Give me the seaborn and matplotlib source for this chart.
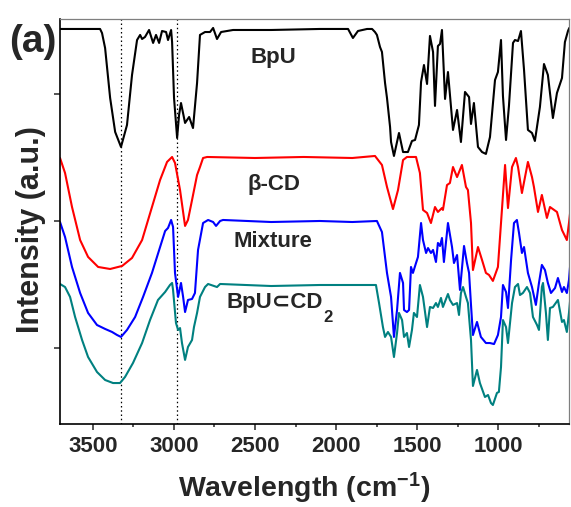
import numpy as np
import pandas as pd
import matplotlib
matplotlib.use("Agg")
import matplotlib.pyplot as plt
from matplotlib.ticker import MultipleLocator
import seaborn as sns

# FTIR spectra, (wavenumber cm^-1, offset intensity a.u.)
bpu = [(3700, 2.512), (3455, 2.512), (3443, 2.480), (3424, 2.362), (3393, 1.969), (3362, 1.701), (3326, 1.583),
       (3289, 1.756), (3258, 2.150), (3227, 2.425), (3208, 2.465), (3196, 2.433), (3178, 2.449),
       (3153, 2.504), (3128, 2.402), (3110, 2.465), (3091, 2.402), (3073, 2.496), (3048, 2.488),
       (3036, 2.425), (3017, 2.504), (3011, 2.409), (2999, 1.969), (2980, 1.654), (2968, 1.835),
       (2956, 1.929), (2931, 1.772), (2906, 1.819), (2882, 1.732), (2857, 2.087), (2839, 2.465),
       (2808, 2.488), (2777, 2.488), (2758, 2.520), (2734, 2.433), (2709, 2.488), (2635, 2.504),
       (2400, 2.504), (2100, 2.512), (1926, 2.512), (1896, 2.441), (1865, 2.496), (1809, 2.512),
       (1778, 2.512), (1760, 2.488), (1748, 2.465), (1729, 2.370), (1717, 2.331), (1698, 2.087),
       (1686, 1.969), (1667, 1.740), (1661, 1.622), (1643, 1.512), (1612, 1.693), (1587, 1.543),
       (1557, 1.543), (1532, 1.630), (1513, 1.638), (1489, 1.756), (1476, 2.094), (1458, 2.228),
       (1439, 2.079), (1421, 2.457), (1402, 2.331), (1390, 1.906), (1372, 2.378), (1359, 2.394),
       (1347, 2.504), (1328, 1.961), (1310, 2.173), (1279, 1.717), (1254, 1.874), (1230, 1.622),
       (1205, 2.016), (1180, 1.976), (1168, 1.764), (1150, 1.929), (1125, 1.583), (1100, 1.543),
       (1076, 1.528), (1051, 1.661), (1020, 2.110), (1002, 2.173), (983, 2.425), (971, 1.984),
       (952, 1.638), (934, 1.906), (909, 2.402), (897, 2.425), (878, 2.417), (860, 2.496),
       (841, 2.189), (817, 1.717), (792, 1.693), (774, 1.630), (743, 1.898), (718, 2.236),
       (694, 2.150), (663, 1.811), (638, 2.008), (607, 2.126), (589, 2.409), (570, 2.496),
       (562, 2.520)]

beta_cd = [(3702, 1.496), (3671, 1.378), (3628, 1.110), (3578, 0.850), (3529, 0.717), (3467, 0.638),
           (3393, 0.622), (3319, 0.646), (3258, 0.709), (3196, 0.850), (3135, 1.110), (3085, 1.323),
           (3042, 1.465), (3011, 1.504), (2993, 1.457), (2962, 1.244), (2931, 0.961), (2913, 1.008),
           (2888, 1.165), (2857, 1.362), (2839, 1.425), (2820, 1.496), (2795, 1.504), (2500, 1.496),
           (2200, 1.504), (1900, 1.496), (1760, 1.512), (1717, 1.441), (1686, 1.268), (1649, 1.094),
           (1618, 1.244), (1587, 1.480), (1563, 1.504), (1507, 1.504), (1483, 1.378), (1464, 1.087),
           (1439, 1.063), (1415, 0.984), (1390, 1.110), (1372, 1.071), (1347, 1.102), (1341, 1.087),
           (1316, 1.283), (1298, 1.299), (1279, 1.425), (1254, 1.346), (1224, 1.441), (1199, 1.268),
           (1187, 1.244), (1168, 0.984), (1156, 0.614), (1125, 0.795), (1100, 0.693), (1076, 0.591),
           (1057, 0.575), (1033, 0.528), (1002, 0.638), (983, 0.984), (958, 1.441), (940, 1.102),
           (915, 1.425), (891, 1.496), (878, 1.425), (854, 1.220), (817, 1.465), (792, 1.346),
           (780, 1.268), (755, 1.071), (731, 1.205), (700, 1.024), (681, 1.110), (638, 1.071),
           (607, 0.929), (577, 0.850), (564, 0.984), (555, 1.087)]

mixture = [(3702, 0.992), (3671, 0.874), (3628, 0.638), (3578, 0.433), (3529, 0.276), (3474, 0.181),
           (3424, 0.150), (3381, 0.126), (3350, 0.102), (3326, 0.087), (3289, 0.142), (3239, 0.244),
           (3190, 0.402), (3135, 0.591), (3085, 0.795), (3054, 0.921), (3036, 0.945), (3017, 1.008),
           (3005, 0.953), (2993, 0.591), (2974, 0.402), (2956, 0.512), (2943, 0.402), (2931, 0.283),
           (2913, 0.378), (2888, 0.386), (2870, 0.433), (2851, 0.772), (2820, 0.984), (2789, 1.008),
           (2758, 0.992), (2740, 0.961), (2715, 1.000), (2697, 1.008), (2400, 0.992), (2100, 1.000),
           (1900, 0.992), (1748, 1.000), (1717, 0.913), (1686, 0.591), (1661, 0.402), (1643, 0.087),
           (1624, 0.299), (1606, 0.591), (1587, 0.512), (1581, 0.299), (1563, 0.283), (1550, 0.299),
           (1538, 0.638), (1526, 0.591), (1507, 0.669), (1495, 0.717), (1476, 0.984), (1464, 0.850),
           (1445, 0.748), (1433, 0.787), (1415, 0.748), (1402, 0.772), (1384, 0.677), (1372, 0.827),
           (1359, 0.803), (1347, 0.866), (1335, 0.677), (1310, 0.984), (1285, 0.795), (1273, 0.669),
           (1254, 0.732), (1236, 0.457), (1211, 0.803), (1193, 0.669), (1180, 0.591), (1168, 0.339),
           (1156, 0.102), (1131, 0.205), (1107, 0.087), (1076, 0.039), (1051, 0.039), (1026, 0.031),
           (1002, 0.102), (983, 0.244), (971, 0.496), (952, 0.441), (940, 0.315), (921, 0.693),
           (903, 0.984), (885, 1.008), (872, 0.906), (854, 0.748), (841, 0.795), (817, 0.591),
           (792, 0.480), (768, 0.339), (749, 0.512), (731, 0.654), (712, 0.614), (694, 0.512),
           (675, 0.433), (650, 0.472), (632, 0.551), (607, 0.441), (595, 0.480), (577, 0.433),
           (564, 0.535), (555, 0.677)]

complex_cd2 = [(3702, 0.504), (3671, 0.480), (3640, 0.402), (3609, 0.244), (3566, 0.063), (3529, -0.071),
               (3474, -0.189), (3424, -0.252), (3375, -0.276), (3332, -0.276), (3301, -0.228), (3252, -0.118),
               (3196, 0.039), (3147, 0.220), (3098, 0.378), (3054, 0.441), (3024, 0.496), (3011, 0.512),
               (3005, 0.457), (2987, 0.197), (2974, 0.142), (2962, 0.157), (2950, 0.039), (2931, -0.094),
               (2913, 0.008), (2888, 0.063), (2876, 0.165), (2857, 0.276), (2839, 0.402), (2808, 0.480),
               (2789, 0.504), (2734, 0.480), (2715, 0.504), (2400, 0.488), (2100, 0.496), (1754, 0.496),
               (1735, 0.354), (1711, 0.165), (1698, 0.087), (1680, 0.126), (1661, 0.087), (1643, -0.071),
               (1624, 0.118), (1612, 0.276), (1593, 0.220), (1581, 0.087), (1563, 0.118), (1550, 0.008),
               (1532, 0.142), (1520, 0.276), (1501, 0.244), (1483, 0.496), (1464, 0.402), (1439, 0.165),
               (1421, 0.323), (1402, 0.315), (1384, 0.354), (1372, 0.323), (1353, 0.394), (1341, 0.323),
               (1310, 0.425), (1298, 0.378), (1279, 0.339), (1254, 0.354), (1242, 0.260), (1230, 0.433),
               (1217, 0.480), (1199, 0.402), (1187, 0.354), (1168, 0.063), (1156, -0.299), (1131, -0.173),
               (1113, -0.276), (1082, -0.386), (1063, -0.370), (1045, -0.433), (1033, -0.449), (1008, -0.354),
               (996, -0.346), (983, -0.150), (971, 0.220), (952, 0.165), (940, 0.039), (915, 0.354),
               (897, 0.480), (878, 0.504), (866, 0.417), (848, 0.433), (823, 0.480), (804, 0.433),
               (786, 0.244), (761, 0.181), (749, 0.142), (731, 0.480), (724, 0.512), (706, 0.276),
               (694, 0.063), (681, 0.315), (663, 0.323), (632, 0.378), (607, 0.205), (595, 0.220),
               (577, 0.126), (564, 0.276), (555, 0.402)]

series_names = ["BpU", "β-CD", "Mixture", "BpU⊂CD2"]
series_colors = ["#000000", "#FF0000", "#0000FF", "#008080"]
label_texts = ["BpU", "β-CD", "Mixture", "BpU⊂CD"]
label_subs = ["", "", "", "2"]
band_lines = [3325, 2980]
x_ticks = [3500, 3000, 2500, 2000, 1500, 1000]

frames = []
for name, pts in zip(series_names, [bpu, beta_cd, mixture, complex_cd2]):
    arr = np.array(pts, dtype=float)
    frames.append(pd.DataFrame({"wn": arr[:, 0], "intensity": arr[:, 1], "sample": name}))
df = pd.concat(frames, ignore_index=True)

sns.set_style("ticks")
plt.rcParams["font.family"] = ["Liberation Sans", "DejaVu Sans"]
plt.rcParams["font.weight"] = "bold"
plt.rcParams["axes.labelweight"] = "bold"
plt.rcParams["mathtext.fontset"] = "custom"
plt.rcParams["mathtext.rm"] = "Liberation Sans:bold"
plt.rcParams["mathtext.default"] = "regular"

fig = plt.figure(figsize=(5.71, 5.07), dpi=100)
ax = fig.add_axes([0.1051, 0.1631, 0.8919, 0.7988])

sns.lineplot(data=df, x="wn", y="intensity", hue="sample", hue_order=series_names,
             palette=dict(zip(series_names, series_colors)), sort=False, estimator=None,
             linewidth=1.5, legend=False, ax=ax)

for xv in band_lines:
    ax.axvline(xv, color="black", lw=0.9, ls=(0, (1.2, 2.2)), zorder=1)

ax.set_xlim(3702, 562)
ax.set_ylim(-0.601, 2.588)

ax.set_xticks(x_ticks)
ax.xaxis.set_minor_locator(MultipleLocator(250))
ax.set_yticks([0, 1, 2])
ax.set_yticklabels([])
ax.tick_params(axis="both", which="major", direction="out", length=4, width=1.1,
               labelsize=16, pad=4.5, top=False, right=False)
ax.tick_params(axis="x", which="minor", direction="out", length=2.5, width=1.1, top=False)
ax.tick_params(axis="y", which="minor", left=False, right=False)

for side in ["left", "bottom"]:
    ax.spines[side].set_color("black")
    ax.spines[side].set_linewidth(1.2)
for side in ["top", "right"]:
    ax.spines[side].set_color("#7f7f7f")
    ax.spines[side].set_linewidth(0.9)

ax.set_xlabel("Wavelength (cm$^{-1}$)", fontsize=20.5, fontweight="bold")
ax.set_ylabel("Intensity (a.u.)", fontsize=22, fontweight="bold")
ax.xaxis.set_label_coords(0.479, -0.114)
ax.yaxis.set_label_coords(-0.028, 0.48)

label_pos = [(2389, 2.246), (2386, 1.244), (2392, 0.798), (2376, 0.315)]
for (xv, yv), txt, sub in zip(label_pos, label_texts, label_subs):
    t = ax.text(xv, yv, txt, ha="center", va="baseline", fontsize=16, fontweight="bold")
    if sub:
        ax.annotate(sub, xy=(1, 0), xycoords=t, xytext=(0, 2), textcoords="offset points",
                    ha="left", va="top", fontsize=12, fontweight="bold")

ax.text(-0.006, 0.944, "(a)", transform=ax.transAxes, ha="right", va="center",
        fontsize=28, fontweight="bold")

fig.savefig("out.png", dpi=100)
